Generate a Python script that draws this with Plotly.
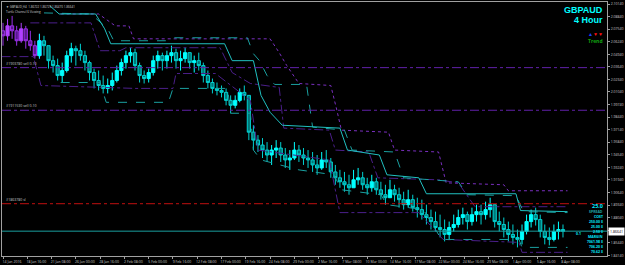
import plotly.graph_objects as go

# ---------------- data ----------------
symbol = "GBPAUD"
timeframe = "4 Hour"
header_text = "\u25bc GBPAUD,H4  1.86722 1.86729 1.86470 1.86641"
indicator_text = "Turtle Channel 6 Viewing"

# x tick labels (one every 16 four-hour bars)
tick_labels = ["14 Jan 2016", "18 Jan 16:00", "21 Jan 08:00", "26 Jan 00:00", "28 Jan 16:00",
               "2 Feb 08:00", "5 Feb 00:00", "9 Feb 16:00", "12 Feb 08:00", "17 Feb 00:00",
               "19 Feb 16:00", "24 Feb 08:00", "29 Feb 00:00", "2 Mar 16:00", "7 Mar 08:00",
               "10 Mar 00:00", "14 Mar 16:00", "17 Mar 08:00", "22 Mar 00:00", "24 Mar 16:00",
               "29 Mar 08:00", "1 Apr 00:00", "5 Apr 16:00", "8 Apr 08:00"]
tick_bars = [16 * k for k in range(len(tick_labels))]

# price-axis labels (the one under the bid box is hidden by the box)
price_ticks = [2.10140, 2.08840, 2.07540, 2.06240, 2.04940, 2.03640, 2.02340, 2.01040,
               1.99740, 1.98440, 1.97140, 1.95840, 1.94540, 1.93240, 1.91940, 1.90640,
               1.89340, 1.88040, 1.86740, 1.85440, 1.84140]

# candles (every third 4h bar)
candle_step = 3
close = [2.0685, 2.0788, 2.0737, 2.0634, 2.0757, 2.0634, 2.0583, 2.0480, 2.0634, 2.0583,
         2.0428, 2.0377, 2.0274, 2.0326, 2.0480, 2.0552, 2.0531, 2.0480, 2.0408, 2.0305,
         2.0223, 2.0171, 2.0141, 2.0171, 2.0223, 2.0326, 2.0408, 2.0480, 2.0511, 2.0377,
         2.0274, 2.0243, 2.0305, 2.0428, 2.0480, 2.0428, 2.0480, 2.0511, 2.0428, 2.0449,
         2.0511, 2.0408, 2.0428, 2.0377, 2.0274, 2.0202, 2.0141, 2.0120, 2.0100, 2.0017,
         1.9966, 2.0017, 2.0100, 2.0069, 1.9688, 1.9606, 1.9555, 1.9503, 1.9452, 1.9503,
         1.9524, 1.9452, 1.9401, 1.9421, 1.9503, 1.9452, 1.9421, 1.9401, 1.9349, 1.9318,
         1.9401, 1.9380, 1.9277, 1.9216, 1.9175, 1.9144, 1.9113, 1.9195, 1.9216, 1.9144,
         1.9113, 1.9175, 1.9092, 1.9041, 1.9010, 1.9092, 1.9041, 1.8990, 1.8938, 1.8990,
         1.8907, 1.8887, 1.8835, 1.8805, 1.8763, 1.8702, 1.8681, 1.8630, 1.8702, 1.8733,
         1.8805, 1.8835, 1.8763, 1.8835, 1.8866, 1.8835, 1.8887, 1.8938, 1.8763, 1.8733,
         1.8681, 1.8630, 1.8599, 1.8578, 1.8661, 1.8763, 1.8835, 1.8784, 1.8661, 1.8599,
         1.8578, 1.8661, 1.8681, 1.8661]
high = [2.0819, 2.0860, 2.0891, 2.0788, 2.0819, 2.0788, 2.0737, 2.0634, 2.0706, 2.0685,
        2.0583, 2.0480, 2.0449, 2.0408, 2.0531, 2.0613, 2.0583, 2.0603, 2.0531, 2.0428,
        2.0346, 2.0326, 2.0274, 2.0243, 2.0305, 2.0377, 2.0449, 2.0531, 2.0562, 2.0552,
        2.0408, 2.0326, 2.0346, 2.0480, 2.0531, 2.0511, 2.0531, 2.0583, 2.0552, 2.0531,
        2.0562, 2.0511, 2.0480, 2.0511, 2.0408, 2.0326, 2.0243, 2.0202, 2.0171, 2.0141,
        2.0069, 2.0069, 2.0141, 2.0171, 2.0069, 1.9760, 1.9658, 1.9627, 1.9586, 1.9555,
        1.9606, 1.9586, 1.9524, 1.9503, 1.9586, 1.9555, 1.9524, 1.9503, 1.9483, 1.9452,
        1.9483, 1.9503, 1.9421, 1.9349, 1.9298, 1.9277, 1.9247, 1.9298, 1.9318, 1.9277,
        1.9216, 1.9247, 1.9216, 1.9175, 1.9144, 1.9195, 1.9144, 1.9113, 1.9072, 1.9092,
        1.9041, 1.9010, 1.8990, 1.8938, 1.8887, 1.8866, 1.8835, 1.8784, 1.8763, 1.8835,
        1.8887, 1.8907, 1.8866, 1.8907, 1.8938, 1.8938, 1.8969, 1.9010, 1.8938, 1.8866,
        1.8805, 1.8763, 1.8733, 1.8681, 1.8733, 1.8835, 1.8887, 1.8907, 1.8835, 1.8733,
        1.8702, 1.8733, 1.8763, 1.8733]
low = [2.0583, 2.0634, 2.0654, 2.0583, 2.0613, 2.0552, 2.0531, 2.0449, 2.0449, 2.0480,
       2.0346, 2.0305, 2.0223, 2.0202, 2.0305, 2.0408, 2.0377, 2.0428, 2.0326, 2.0223,
       2.0141, 2.0120, 2.0089, 2.0089, 2.0120, 2.0202, 2.0274, 2.0346, 2.0408, 2.0326,
       2.0202, 2.0192, 2.0202, 2.0274, 2.0346, 2.0326, 2.0346, 2.0408, 2.0346, 2.0326,
       2.0408, 2.0346, 2.0305, 2.0326, 2.0202, 2.0141, 2.0089, 2.0069, 2.0048, 1.9966,
       1.9884, 1.9935, 1.9997, 2.0017, 1.9606, 1.9503, 1.9483, 1.9421, 1.9380, 1.9349,
       1.9421, 1.9380, 1.9318, 1.9298, 1.9401, 1.9380, 1.9349, 1.9318, 1.9277, 1.9247,
       1.9298, 1.9318, 1.9216, 1.9144, 1.9113, 1.9072, 1.9041, 1.9113, 1.9144, 1.9092,
       1.9041, 1.9072, 1.9041, 1.8990, 1.8938, 1.9010, 1.8969, 1.8907, 1.8887, 1.8907,
       1.8866, 1.8805, 1.8784, 1.8733, 1.8681, 1.8661, 1.8599, 1.8558, 1.8578, 1.8661,
       1.8702, 1.8733, 1.8681, 1.8722, 1.8763, 1.8733, 1.8784, 1.8805, 1.8702, 1.8661,
       1.8599, 1.8558, 1.8527, 1.8496, 1.8527, 1.8630, 1.8702, 1.8722, 1.8599, 1.8527,
       1.8517, 1.8558, 1.8578, 1.8599]
first_open = 2.0737
purple_candles = 8  # leading candles drawn in violet

# Turtle-channel style lines: (bar, price) breakpoints
cyan_upper_bars = [31, 37, 61, 67, 71, 146, 151, 165, 170, 176, 184, 222, 227, 248, 253, 274, 279, 338, 341, 372]
cyan_upper_vals = [2.0994, 2.0911, 2.0911, 2.0757, 2.0603, 2.0603, 2.0428, 2.0428, 2.0069, 1.9894,
                   1.9760, 1.9730, 1.9503, 1.9452, 1.9247, 1.9216, 1.9051, 1.9051, 1.8877, 1.8866]
teal_upper_bars = [27, 58, 69, 73, 107, 111, 161, 165, 169, 174, 179, 200, 204, 225, 230, 258, 264, 300, 306, 338, 343, 372]
teal_upper_vals = [2.0922, 2.0911, 2.0757, 2.0634, 2.0634, 2.0665, 2.0665, 2.0500, 2.0428, 2.0274,
                   2.0182, 2.0182, 1.9740, 1.9709, 1.9503, 1.9483, 1.9216, 1.9175, 1.9041, 1.9031,
                   1.8866, 1.8856]
violet_dot_bars = [38, 63, 74, 83, 86, 176, 182, 187, 195, 216, 220, 223, 254, 258, 287, 292, 330, 333, 372]
violet_dot_vals = [2.0911, 2.0911, 2.0788, 2.0788, 2.0654, 2.0654, 2.0511, 2.0377,
                   2.0192, 2.0171, 1.9915, 1.9709, 1.9688, 1.9503, 1.9483, 1.9164, 1.9144, 1.9082,
                   1.9082]
indigo_upper_bars = [18, 58, 64, 77, 81, 143, 151, 163, 182, 185, 215, 219, 241, 247, 287, 300, 311, 372]
indigo_upper_vals = [2.0819, 2.0819, 2.0531, 2.0531, 2.0562, 2.0562, 2.0305, 2.0192, 2.0151, 1.9730,
                     1.9709, 1.9503, 1.9483, 1.9216, 1.9195, 1.9164, 1.8917, 1.8917]
teal_lower_bars = [38, 64, 68, 109, 112, 148, 150, 163, 165, 170, 195, 218, 223, 249, 253, 277, 289, 340, 342, 372]
teal_lower_vals = [2.0202, 2.0202, 1.9997, 1.9997, 2.0141, 2.0141, 1.9884, 1.9884, 1.9503, 1.9401,
                   1.9298, 1.9247, 1.9092, 1.9041, 1.8938, 1.8887, 1.8578, 1.8578, 1.8496, 1.8496]
indigo_lower_bars = [-1, 20, 25, 87, 112, 114, 140, 163, 168, 215, 222, 274, 290, 340, 342, 372]
indigo_lower_vals = [2.0470, 2.0470, 2.0171, 2.0141, 2.0141, 2.0295, 2.0295, 2.0017, 1.9503, 1.9401,
                     1.8856, 1.8856, 1.8578, 1.8548, 1.8445, 1.8445]

# horizontal order lines
order_prices = [2.0356, 1.9915]
order_labels = ["#1903780 sell 0.10", "#1911530 sell 0.10"]
sl_price = 1.8948
sl_label = "#1863780 sl"
bid_price = 1.8664
bid_label = "1.86641"

# info panel (bottom right)
panel_lines = ["25.0", "SPREAD", "COST", "250.00 $", "25.00 $", "2.50 $", "MARGIN",
               "7061.98 $", "706.20 $", "70.62 $"]
lot_label = "0.1"

# ---------------- figure ----------------
W, H = 625, 265
ML, MR, MT, MB = 1, 16, 1, 8
x_range = [-0.66, 398]
y_range = [1.8407, 2.1035]
PW, PH = W - ML - MR, H - MT - MB

def px_x(x):  # pixel -> paper
    return (x - ML) / PW

def px_y(y):
    return 1 - (y - MT) / PH

n = len(close)
bars = [i * candle_step for i in range(n)]
opens = [first_open] + close[:-1]
hi = [max(h, o, c) for h, o, c in zip(high, opens, close)]
lo = [min(l, o, c) for l, o, c in zip(low, opens, close)]

fig = go.Figure()

def candles(sl, inc_line, inc_fill, dec_line, dec_fill):
    fig.add_trace(go.Candlestick(
        x=bars[sl], open=opens[sl], high=hi[sl], low=lo[sl], close=close[sl],
        increasing=dict(line=dict(color=inc_line, width=1), fillcolor=inc_fill),
        decreasing=dict(line=dict(color=dec_line, width=1), fillcolor=dec_fill),
        whiskerwidth=0, showlegend=False, hoverinfo="skip"))

candles(slice(0, purple_candles + 1), "#b040ff", "#b040ff", "#9a30e8", "#5a1890")
candles(slice(purple_candles, n), "#00ffff", "#00ffff", "#00d0d0", "#007878")

def line(xs, ys, color, dash, width=1):
    fig.add_trace(go.Scatter(x=xs, y=ys, mode="lines", line=dict(color=color, dash=dash, width=width),
                             showlegend=False, hoverinfo="skip"))

line(violet_dot_bars, violet_dot_vals, "#7a2fc0", "dot")
line(indigo_upper_bars, indigo_upper_vals, "#4b1f8a", "dashdot")
line(indigo_lower_bars, indigo_lower_vals, "#4b1f8a", "dashdot")
line(teal_upper_bars, teal_upper_vals, "#1aa0a0", "dash")
line(teal_lower_bars, teal_lower_vals, "#1aa0a0", "dash")
line(cyan_upper_bars, cyan_upper_vals, "#20c0c0", "solid")

# order lines
for p, lab in zip(order_prices, order_labels):
    fig.add_shape(type="line", xref="paper", x0=0, x1=1, yref="y", y0=p, y1=p,
                  line=dict(color="#6020a8", width=1, dash="dashdot"))
    fig.add_annotation(xref="paper", x=px_x(3), y=p, yref="y", text=lab, showarrow=False,
                       xanchor="left", yanchor="bottom", font=dict(size=3.5, color="#c8c8c8"), yshift=0)
fig.add_shape(type="line", xref="paper", x0=0, x1=1, yref="y", y0=sl_price, y1=sl_price,
              line=dict(color="#c01010", width=1, dash="dashdot"))
fig.add_annotation(xref="paper", x=px_x(3), y=sl_price, yref="y", text=sl_label, showarrow=False,
                   xanchor="left", yanchor="bottom", font=dict(size=3.5, color="#c8c8c8"), yshift=0)
fig.add_shape(type="line", xref="paper", x0=0, x1=1, yref="y", y0=bid_price, y1=bid_price,
              line=dict(color="#1a9e9e", width=1))
fig.add_annotation(xref="paper", x=1, xanchor="left", y=bid_price, yref="y", text=bid_label,
                   showarrow=False, bgcolor="#ffffff", font=dict(size=3.5, color="#000000"),
                   borderpad=1, xshift=1)

# header texts
fig.add_annotation(xref="paper", yref="paper", x=px_x(3), y=1, yshift=-1, xanchor="left", yanchor="top",
                   text=header_text, showarrow=False, font=dict(size=3, color="#d0d0d0"))
fig.add_annotation(xref="paper", yref="paper", x=px_x(3), y=1, yshift=-6, xanchor="left", yanchor="top",
                   text=indicator_text, showarrow=False, font=dict(size=3, color="#d0d0d0"))

# symbol / timeframe
xr = px_x(607)
fig.add_annotation(xref="paper", yref="paper", x=xr, y=px_y(9), xanchor="right", yanchor="middle",
                   text="<b>%s</b>" % symbol, showarrow=False,
                   font=dict(family="Liberation Sans, Arial, sans-serif", size=9, color="#00ffff"))
fig.add_annotation(xref="paper", yref="paper", x=xr, y=px_y(19), xanchor="right", yanchor="middle",
                   text="<b>%s</b>" % timeframe, showarrow=False,
                   font=dict(family="Liberation Sans, Arial, sans-serif", size=9, color="#00ffff"))
fig.add_annotation(xref="paper", yref="paper", x=xr, y=px_y(33), xanchor="right", yanchor="middle",
                   showarrow=False,
                   text="<span style='color:#1a40ff'>\u25b2</span><span style='color:#ff1010'>\u25bc\u25bc</span>",
                   font=dict(size=5, color="#ff1010"))
fig.add_annotation(xref="paper", yref="paper", x=xr, y=px_y(40), xanchor="right", yanchor="middle",
                   text="<b>Trend</b>", showarrow=False,
                   font=dict(size=5, color="#10a010"))

# info panel
for k, t in enumerate(panel_lines):
    ypx = 207 + 5 * k
    fig.add_annotation(xref="paper", yref="paper", x=xr, y=px_y(ypx), xanchor="right", yanchor="middle",
                       text="<b>%s</b>" % t, showarrow=False,
                       font=dict(size=5.5 if k == 0 else 3.5, color="#00e8ff" if k != 1 else "#20a8a8"))
fig.add_annotation(xref="paper", yref="paper", x=px_x(585), y=px_y(234.5), xanchor="right", yanchor="middle",
                   text="<b>%s</b>" % lot_label, showarrow=False, font=dict(size=3.5, color="#00e8ff"))

fig.update_layout(
    width=W, height=H, margin=dict(l=ML, r=MR, t=MT, b=MB),
    paper_bgcolor="#000000", plot_bgcolor="#000000",
    boxgap=0.3, boxgroupgap=0,
    xaxis=dict(range=x_range, tickvals=tick_bars, ticktext=tick_labels, showgrid=False, zeroline=False,
               showline=True, linecolor="#a0a0a0", linewidth=1, mirror=True, ticks="outside",
               ticklen=2, tickcolor="#a0a0a0", tickfont=dict(size=3.5, color="#c8c8c8"),
               ticklabelshift=9, ticklabelstandoff=0, rangeslider=dict(visible=False)),
    yaxis=dict(range=y_range, side="right", tickvals=price_ticks,
               ticktext=["" if abs(v - bid_price) < 0.003 else "%.5f" % v for v in price_ticks],
               showgrid=False, zeroline=False,
               showline=True, linecolor="#a0a0a0", linewidth=1, mirror=True, ticks="outside",
               ticklen=2, tickcolor="#a0a0a0", tickfont=dict(size=3.5, color="#c8c8c8"),
               ticklabelstandoff=0),
)

fig.write_html("out.html")
